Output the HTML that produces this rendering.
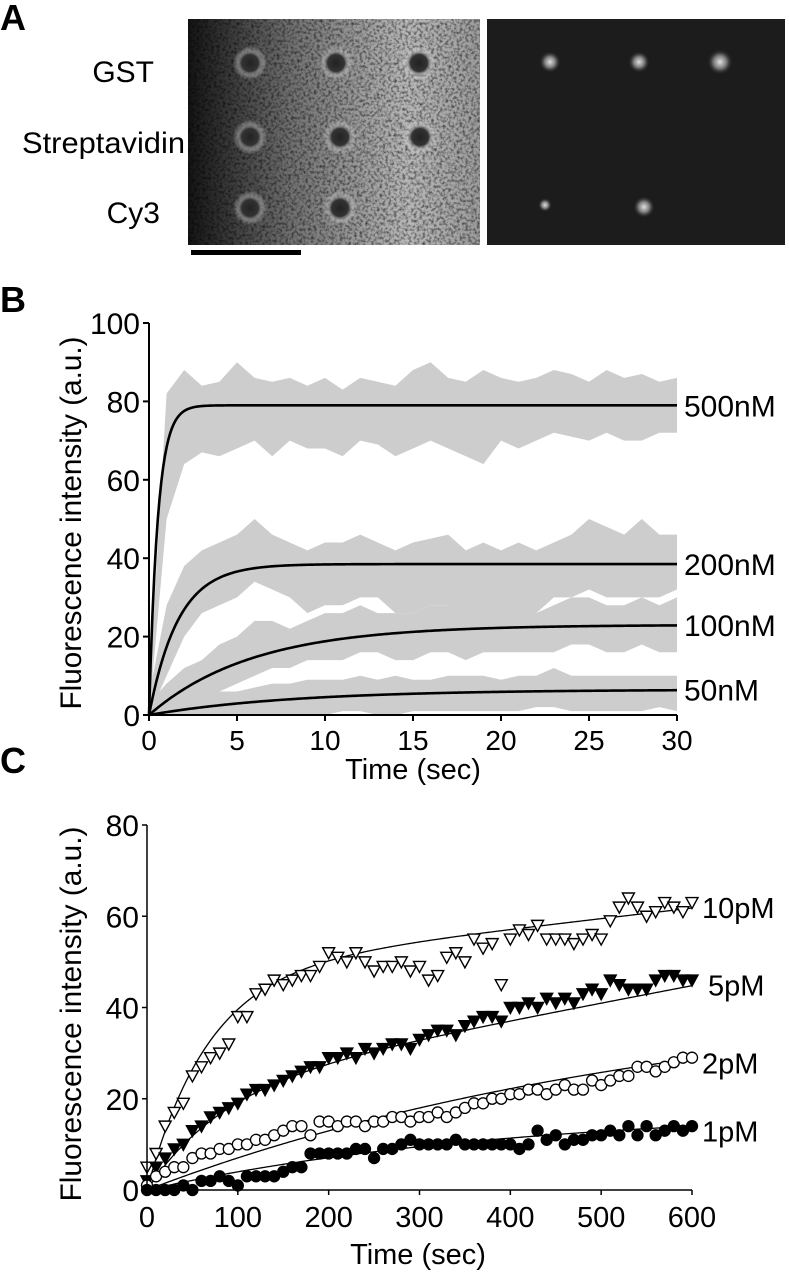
<!DOCTYPE html>
<html><head><meta charset="utf-8">
<style>
html,body{margin:0;padding:0;background:#fff;}
svg{display:block;font-family:"Liberation Sans",Arial,sans-serif;}
</style></head>
<body>
<svg id="fig" width="789" height="1280" viewBox="0 0 789 1280" xmlns="http://www.w3.org/2000/svg">
<defs>
<linearGradient id="lg" x1="0" x2="1" y1="0" y2="0">
<stop offset="0" stop-color="#141414"/><stop offset="0.35" stop-color="#707070"/><stop offset="0.75" stop-color="#b8b8b8"/><stop offset="1" stop-color="#9c9c9c"/>
</linearGradient>
<filter id="noise" x="0" y="0" width="100%" height="100%">
<feTurbulence type="fractalNoise" baseFrequency="0.35" numOctaves="2" seed="3" result="t"/>
<feColorMatrix type="matrix" values="0 0 0 0 0  0 0 0 0 0  0 0 0 0 0  0 0 0 -2.2 1.3" />
</filter>
<radialGradient id="darkspot"><stop offset="0" stop-color="#222"/><stop offset="0.5" stop-color="#333"/><stop offset="0.72" stop-color="#bbb" stop-opacity="0.45"/><stop offset="1" stop-color="#fff" stop-opacity="0"/></radialGradient>
<radialGradient id="brightspot"><stop offset="0" stop-color="#e0e0e0"/><stop offset="0.5" stop-color="#7a7a7a"/><stop offset="1" stop-color="#1c1c1c" stop-opacity="0"/></radialGradient>
</defs>

<!-- Panel A -->
<text x="0" y="30" font-size="36" font-weight="bold">A</text>
<g font-size="30" text-anchor="end">
<text x="154" y="82">GST</text>
<text x="185" y="153" textLength="163" lengthAdjust="spacingAndGlyphs">Streptavidin</text>
<text x="160" y="223">Cy3</text>
</g>
<g>
<rect x="188" y="19" width="292" height="226" fill="url(#lg)"/>
<rect x="188" y="19" width="292" height="226" fill="#000" filter="url(#noise)" opacity="0.6"/>
<g id="darkspots"></g>
</g>
<g>
<rect x="487" y="19" width="298" height="226" fill="#1c1c1c"/>
<g id="brightspots"></g>
</g>
<rect x="191" y="250" width="110" height="5" fill="#000"/>

<!-- Panel B -->
<text x="0" y="312" font-size="36" font-weight="bold">B</text>
<g id="chartB"></g>

<!-- Panel C -->
<text x="0" y="773" font-size="36" font-weight="bold">C</text>
<g id="chartC"></g>
</svg>

<script>
const NS="http://www.w3.org/2000/svg";
function mk(tag,attrs,parent,txt){const e=document.createElementNS(NS,tag);for(const k in attrs)e.setAttribute(k,attrs[k]);if(txt!==undefined)e.textContent=txt;parent.appendChild(e);return e;}

// ---- Panel A spot data ----
const darkSpotX=[250,336,419,250,340,420,250,340];
const darkSpotY=[63,63,63,137,137,137,208,208];
const brightSpotX=[550,639,720,644,545];
const brightSpotY=[62,62,62,207,205];
const brightSpotR=[11,11,13,11,7];
const ds=document.getElementById('darkspots');
for(let i=0;i<darkSpotX.length;i++){
  const c=mk('circle',{cx:darkSpotX[i],cy:darkSpotY[i],r:17,fill:'url(#darkspot)'},ds);
  
  
}
const bs=document.getElementById('brightspots');
for(let i=0;i<brightSpotX.length;i++){
  const c=mk('circle',{cx:brightSpotX[i],cy:brightSpotY[i],r:brightSpotR[i],fill:'url(#brightspot)'},bs);
  
  
}

// ---- Panel B data ----
const bTime=[0,1,2,3,4,5,6,7,8,9,10,11,12,13,14,15,16,17,18,19,20,21,22,23,24,25,26,27,28,29,30];
const bXTicks=[0,5,10,15,20,25,30];
const bYTicks=[0,20,40,60,80,100];
const bSeriesNames=["500nM","200nM","100nM","50nM"];
const bPlateau=[79,38.5,23,6.5];
const bRate=[2.0,0.6,0.17,0.12];
const hi500=[5,82,88,84,85,90,86,85,86,84,86,83,86,85,84,88,90,86,85,88,86,85,86,88,87,85,88,86,87,85,86];
const lo500=[0,50,64,67,66,68,70,66,70,68,68,66,70,69,66,68,70,68,66,64,70,68,70,72,71,70,72,70,70,72,72];
const hi200=[5,28,38,42,44,46,50,46,44,42,44,44,46,44,42,44,45,46,42,44,42,44,42,44,46,50,48,46,50,46,46];
const lo200=[0,10,20,26,28,30,34,32,30,26,28,28,30,30,26,26,28,28,26,26,24,26,26,30,30,32,30,30,30,30,32];
const hi100=[3,8,12,14,18,20,24,24,22,24,26,26,28,26,26,26,28,28,28,26,28,28,26,28,30,30,28,28,30,28,30];
const lo100=[0,0,2,4,6,8,10,12,12,14,14,14,16,16,14,14,16,16,14,16,16,16,16,16,18,18,16,16,18,16,16];
const hi50=[3,5,5,5,6,6,7,8,8,9,9,9,10,9,10,9,9,10,10,10,9,10,10,12,10,10,10,10,10,10,10];
const lo50=[0,0,0,0,0,0,0,0,0,0,0,1,1,0,0,1,1,1,1,1,1,1,2,2,1,1,1,1,1,2,1];

const bX=t=>149+t*(528/30);
const bY=v=>715-v*3.92;
(function(){
  const g=document.getElementById('chartB');
  const his=[hi500,hi200,hi100,hi50], los=[lo500,lo200,lo100,lo50];
  for(let s=0;s<4;s++){
    let pts=[];
    for(let i=0;i<bTime.length;i++)pts.push(bX(bTime[i])+','+bY(his[s][i]));
    for(let i=bTime.length-1;i>=0;i--)pts.push(bX(bTime[i])+','+bY(los[s][i]));
    const p=mk('polygon',{points:pts.join(' '),fill:'#cdcdcd'},g);
    
    
  }
  for(let s=0;s<4;s++){
    let d='';
    for(let k=0;k<=300;k++){const t=k*0.1;const v=bPlateau[s]*(1-Math.exp(-bRate[s]*t));d+=(k?'L':'M')+bX(t).toFixed(2)+','+bY(v).toFixed(2);}
    const p=mk('path',{d:d,fill:'none',stroke:'#000','stroke-width':2.6},g);
    
    
    const lab=mk('text',{x:684,y:bY(bPlateau[s])+11,'font-size':30},g,bSeriesNames[s]);
    
    
  }
  const ax=mk('path',{d:`M${bX(0)},${bY(100)}V${bY(0)}H${bX(30)}`,fill:'none',stroke:'#000','stroke-width':2},g);
  
  
  bYTicks.forEach(v=>{
    mk('line',{x1:bX(0)-6,x2:bX(0),y1:bY(v),y2:bY(v),stroke:'#000','stroke-width':2},g);
    const t=mk('text',{x:bX(0)-9,y:bY(v)+11,'font-size':30,'text-anchor':'end'},g,v);
    
    
  });
  bXTicks.forEach(v=>{
    mk('line',{x1:bX(v),x2:bX(v),y1:bY(0),y2:bY(0)+6,stroke:'#000','stroke-width':2},g);
    const t=mk('text',{x:bX(v),y:bY(0)+35,'font-size':28,'text-anchor':'middle'},g,v);
    
    
  });
  const xt=mk('text',{x:413,y:779,'font-size':29,'text-anchor':'middle'},g,'Time (sec)');
  
  
  const yt=mk('text',{x:0,y:0,'font-size':30,'text-anchor':'middle',transform:'translate(81,523) rotate(-90)',textLength:373,lengthAdjust:'spacingAndGlyphs'},g,'Fluorescence intensity (a.u.)');
  
  
})();

// ---- Panel C data ----
const cTime=[0,10,20,30,40,50,60,70,80,90,100,110,120,130,140,150,160,170,180,190,200,210,220,230,240,250,260,270,280,290,300,310,320,330,340,350,360,370,380,390,400,410,420,430,440,450,460,470,480,490,500,510,520,530,540,550,560,570,580,590,600];
const cXTicks=[0,100,200,300,400,500,600];
const cYTicks=[0,20,40,60,80];
const cSeriesNames=["10pM","5pM","2pM","1pM"];
const v10=[5,8,14,17,19,25,27,29,30,32,38,38,43,44,46,45,46,47,47,49,52,51,50,52,50,48,49,49,50,48,49,46,47,51,52,50,55,53,54,45,55,57,56,58,55,55,55,54,55,56,55,59,62,64,62,60,61,63,62,61,63];
const v5=[2,5,7,9,10,13,14,16,17,18,19,21,22,22,23,24,25,26,27,27,29,29,30,29,31,30,31,32,32,31,33,34,35,35,34,36,37,38,38,37,40,40,41,40,42,41,42,41,43,44,43,46,45,44,44,44,46,47,47,46,46];
const v2=[1,3,4,5,5,7,8,8,9,9,10,10,11,11,12,13,14,14,12,15,15,14,15,15,14,15,15,16,16,15,16,16,17,16,17,18,19,19,20,20,21,21,22,22,21,22,23,22,22,24,23,24,25,25,27,27,26,27,28,29,29];
const v1=[0,0,0,0,1,0,2,2,3,2,1,3,3,3,3,4,5,5,8,8,8,8,8,9,9,7,9,9,10,11,10,10,10,10,11,10,10,10,10,10,10,9,10,13,11,12,10,11,11,12,12,13,12,14,12,14,12,13,14,13,14];
const cFitA=[48,22,45,18];
const cFitK=[0.015,0.012,0.0017,0.0025];
const cFitB=[0.023,0.038,0,0];
const cLabelY=[62,45,28,13];

const cX=t=>147+t*(545/600);
const cY=v=>1190-v*4.5625;
(function(){
  const g=document.getElementById('chartC');
  const vals=[v10,v5,v2,v1];
  for(let s=0;s<4;s++){
    let d='';
    for(let k=0;k<=300;k++){const t=k*2;const v=cFitA[s]*(1-Math.exp(-cFitK[s]*t))+cFitB[s]*t;d+=(k?'L':'M')+cX(t).toFixed(2)+','+cY(v).toFixed(2);}
    const p=mk('path',{d:d,fill:'none',stroke:'#000','stroke-width':1.3},g);
    
    
  }
  for(let s=0;s<4;s++){
    for(let i=0;i<cTime.length;i++){
      const x=cX(cTime[i]), y=cY(vals[s][i]);
      let m;
      if(s<2){
        m=mk('polygon',{points:`${x-6},${y-5} ${x+6},${y-5} ${x},${y+6}`,fill:s===0?'#fff':'#000',stroke:'#000','stroke-width':1.4},g);
      }else{
        m=mk('circle',{cx:x,cy:y,r:s===2?5.5:5.5,fill:s===2?'#fff':'#000',stroke:'#000','stroke-width':1.3},g);
      }
      
      
    }
    const lab=mk('text',{x:s===1?708:702,y:cY(cLabelY[s])+11,'font-size':29},g,cSeriesNames[s]);
    
    
  }
  const ax=mk('path',{d:`M${cX(0)},${cY(80)}V${cY(0)}H${cX(600)}`,fill:'none',stroke:'#000','stroke-width':1.5},g);
  
  
  cYTicks.forEach(v=>{
    mk('line',{x1:cX(0)-5,x2:cX(0),y1:cY(v),y2:cY(v),stroke:'#000','stroke-width':1.5},g);
    const t=mk('text',{x:cX(0)-8,y:cY(v)+11,'font-size':30,'text-anchor':'end'},g,v);
    
    
  });
  cXTicks.forEach(v=>{
    mk('line',{x1:cX(v),x2:cX(v),y1:cY(0),y2:cY(0)+5,stroke:'#000','stroke-width':1.5},g);
    const t=mk('text',{x:cX(v),y:cY(0)+37,'font-size':29,'text-anchor':'middle'},g,v);
    
    
  });
  const xt=mk('text',{x:418,y:1264,'font-size':29,'text-anchor':'middle'},g,'Time (sec)');
  
  
  const yt=mk('text',{x:0,y:0,'font-size':30,'text-anchor':'middle',transform:'translate(81,1014) rotate(-90)','xml:space':'preserve',textLength:375,lengthAdjust:'spacingAndGlyphs'},g,'Fluorescence intensity  (a.u.)');
  
  
})();
</script>
</body></html>
